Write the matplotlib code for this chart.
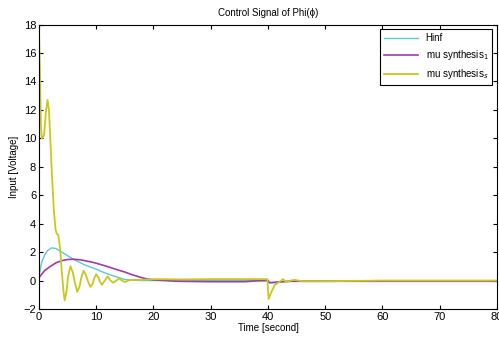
import numpy as np
import matplotlib
matplotlib.use("Agg")
import matplotlib.pyplot as plt

plt.rcParams['font.family'] = ['Liberation Sans', 'DejaVu Sans']

# Hinf
t_hinf = [0, 0.5, 1, 1.5, 2.2, 3, 4, 5, 6, 7, 8, 9, 10, 11, 12, 13, 14, 15, 16, 18,
          20, 30, 39.9, 40.2, 41, 42, 43, 45, 50, 80]
u_hinf = [0.3, 1.3, 1.8, 2.1, 2.3, 2.25, 2.0, 1.75, 1.5, 1.3, 1.1, 0.95, 0.8, 0.62, 0.47, 0.33, 0.2, 0.08, 0.03, 0.0,
          0.0, 0.0, 0.0, -0.15, -0.15, -0.1, -0.05, -0.05, -0.05, -0.05]

# mu synthesis_1
t_mu1 = [0, 0.5, 1, 2, 3, 4, 5, 6, 7, 8, 9, 10, 11, 12, 13, 14, 15, 16, 17, 18, 19, 20,
         22, 24, 30, 36, 38, 40, 40.3, 42, 44, 50, 80]
u_mu1 = [0.2, 0.45, 0.7, 1.0, 1.25, 1.4, 1.48, 1.5, 1.47, 1.4, 1.32, 1.22, 1.1, 0.98, 0.85, 0.72, 0.6, 0.45, 0.32, 0.2, 0.1, 0.05,
         0.0, -0.05, -0.08, -0.08, -0.02, 0.0, -0.15, -0.1, -0.05, -0.05, -0.05]

# mu synthesis_s
t_mus = [0, 0.15, 0.35, 0.5, 0.9, 1.2, 1.5, 1.75, 2.0, 2.3, 2.6, 2.9, 3.1, 3.4, 3.7, 4.0, 4.3, 4.5, 4.8,
         5.1, 5.5, 5.9, 6.3, 6.7, 7.1, 7.4, 7.8, 8.2, 8.6, 9.0, 9.4, 9.7, 10.0, 10.4, 10.7, 11.0,
         11.5, 12.0, 12.5, 13.0, 13.5, 14.0, 14.5, 15.0, 16, 18, 20, 25, 30, 35,
         39.9, 40.1, 40.6, 41.2, 42, 42.6, 43.2, 44, 44.6, 46, 50, 60, 80]
u_mus = [17.8, 15.0, 11.0, 10.0, 10.2, 11.8, 12.7, 12.0, 9.8, 7.2, 5.0, 3.6, 3.3, 3.2, 2.2, 0.6, -0.8, -1.4, -0.8,
         0.3, 1.0, 0.6, -0.2, -0.8, -0.4, 0.2, 0.7, 0.4, -0.1, -0.45, -0.2, 0.2, 0.45, 0.2, -0.1, -0.3,
         0.0, 0.3, 0.0, -0.15, 0.0, 0.15, 0.0, -0.1, 0.05, 0.05, 0.1, 0.08, 0.1, 0.1,
         0.1, -1.3, -0.8, -0.3, -0.1, 0.1, -0.1, 0.0, 0.05, -0.05, -0.05, 0.0, 0.0]

fig = plt.figure(figsize=(4.99, 3.39), dpi=100)
ax = fig.add_axes([0.078, 0.0885, 0.918, 0.839])

ax.plot(t_hinf, u_hinf, color='#5cc8d2', lw=1.0, label='Hinf')
ax.plot(t_mu1, u_mu1, color='#a03ca8', lw=1.2, label='mu synthesis$_1$')
ax.plot(t_mus, u_mus, color='#c8c81e', lw=1.3, label='mu synthesis$_s$')

ax.set_xlim(0, 80)
ax.set_ylim(-2, 18)
ax.set_xticks(np.arange(0, 81, 10))
ax.set_yticks(np.arange(-2, 19, 2))
ax.tick_params(direction='in', top=True, right=True, labelsize=8, length=3, pad=2)

ax.set_title('Control Signal of Phi(\u03d5)', fontsize=7, pad=6)
ax.set_xlabel('Time [second]', fontsize=7, labelpad=1)
ax.set_ylabel('Input [Voltage]', fontsize=7, labelpad=3)

leg = ax.legend(loc='upper right', fontsize=7, fancybox=False, framealpha=1,
                edgecolor='black', borderaxespad=0.5, handlelength=3.5)
leg.get_frame().set_linewidth(0.8)

fig.savefig('out.png', dpi=100)
